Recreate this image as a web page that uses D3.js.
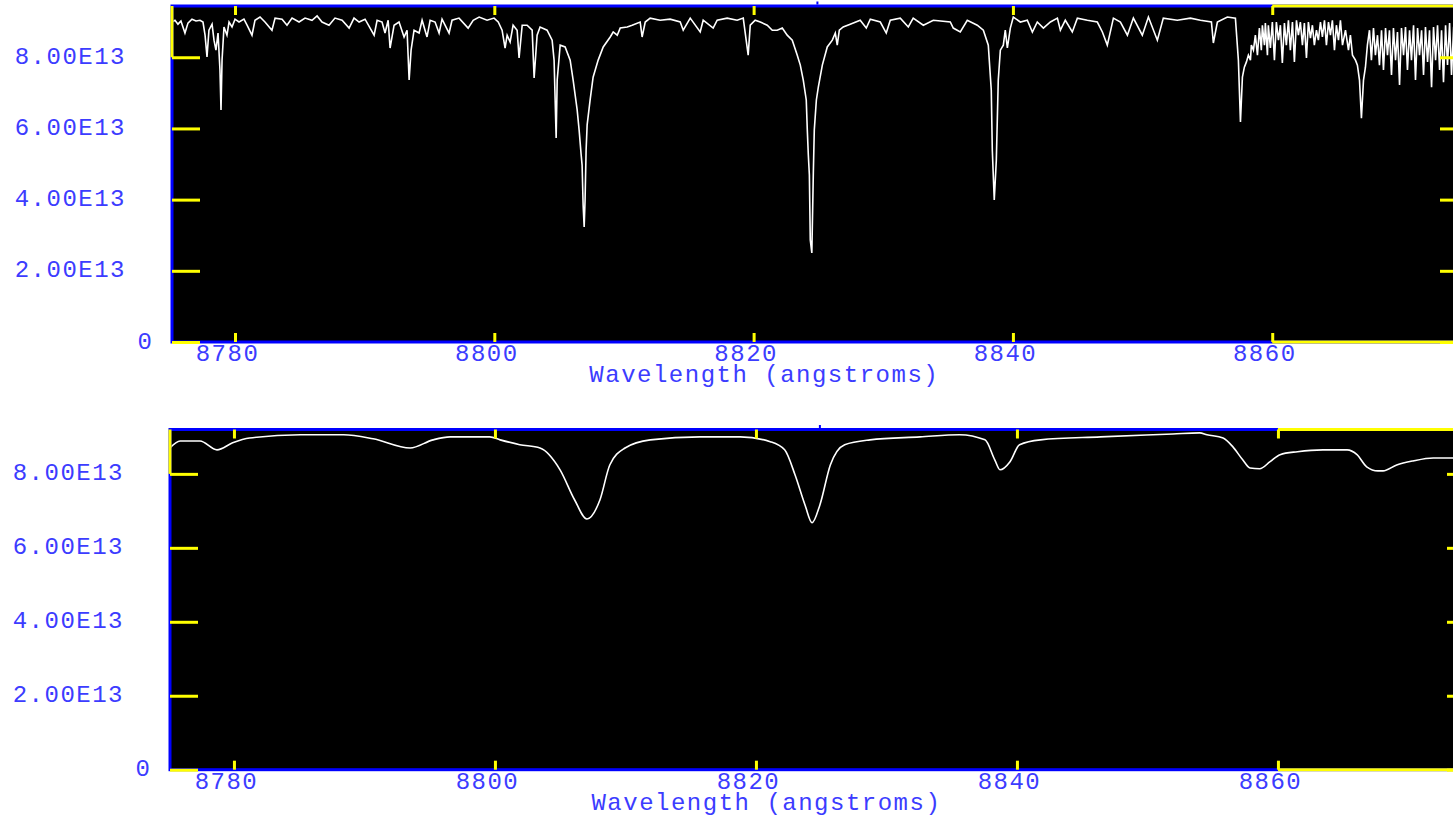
<!DOCTYPE html>
<html>
<head>
<meta charset="utf-8">
<script src="https://cdn.jsdelivr.net/npm/d3@7"></script>
<style>
  html, body { margin: 0; padding: 0; background: #ffffff; }
  svg { display: block; }
  .lbl { font-family: "Liberation Mono", "DejaVu Sans Mono", monospace; font-size: 24px; letter-spacing: 1.5px; fill: #3c3cff; }
</style>
</head>
<body>
<svg id="chart" width="1453" height="817"></svg>
<script>
// Flux values are stored in units of 1e13.
const fluxUnit = "E13";
const yTickValues = [0, 2, 4, 6, 8];
const xTickValues = [8780, 8800, 8820, 8840, 8860];
const xTitle = "Wavelength (angstroms)";

// Full-resolution spectrum: [wavelength (A), flux / 1e13]
const observedSpectrum = [
  [8775.14, 8.99], [8775.37, 9.04], [8775.60, 8.93], [8775.83, 9.02], [8776.14, 8.68],
  [8776.37, 8.96], [8776.68, 9.07], [8776.99, 9.02], [8777.30, 9.04], [8777.53, 8.99],
  [8777.69, 8.62], [8777.84, 8.01], [8777.99, 8.76], [8778.23, 8.93], [8778.38, 8.48],
  [8778.53, 8.20], [8778.69, 8.68], [8778.84, 7.64], [8778.92, 6.52], [8779.00, 7.92],
  [8779.15, 8.85], [8779.38, 8.62], [8779.54, 8.99], [8779.77, 8.85], [8780.00, 9.07],
  [8780.31, 8.99], [8780.69, 9.07], [8780.93, 8.90], [8781.31, 8.62], [8781.54, 9.04],
  [8781.93, 9.13], [8782.31, 8.99], [8782.85, 8.76], [8783.09, 9.10], [8783.63, 9.07],
  [8784.01, 8.90], [8784.40, 9.10], [8784.94, 8.99], [8785.40, 9.10], [8785.94, 9.04],
  [8786.33, 9.16], [8786.71, 8.99], [8787.25, 8.90], [8787.71, 9.10], [8788.26, 9.04],
  [8788.80, 8.82], [8789.18, 9.10], [8789.57, 8.99], [8790.03, 9.07], [8790.73, 8.62],
  [8790.96, 9.04], [8791.34, 8.99], [8791.57, 8.68], [8791.81, 9.04], [8791.96, 8.26],
  [8792.27, 8.90], [8792.65, 8.99], [8793.04, 8.57], [8793.27, 8.76], [8793.43, 7.36],
  [8793.58, 8.20], [8793.81, 8.76], [8794.20, 8.68], [8794.43, 9.04], [8794.81, 8.57],
  [8795.05, 9.04], [8795.43, 8.99], [8795.74, 8.68], [8795.97, 9.07], [8796.51, 8.68],
  [8796.74, 9.04], [8797.28, 9.10], [8797.98, 8.82], [8798.37, 9.04], [8798.83, 9.13],
  [8799.44, 9.04], [8799.98, 9.10], [8800.30, 8.99], [8800.60, 8.76], [8800.83, 8.26],
  [8800.99, 8.62], [8801.22, 8.43], [8801.45, 8.90], [8801.76, 8.76], [8801.91, 7.98],
  [8802.15, 8.90], [8802.53, 8.90], [8802.92, 8.76], [8803.07, 7.42], [8803.30, 8.62],
  [8803.53, 8.85], [8804.07, 8.76], [8804.46, 8.48], [8804.61, 7.92], [8804.77, 5.73],
  [8804.85, 7.36], [8805.08, 8.34], [8805.46, 8.29], [8805.85, 7.92], [8806.08, 7.36],
  [8806.39, 6.52], [8806.54, 5.96], [8806.70, 5.25], [8806.77, 4.97], [8806.85, 3.85],
  [8806.93, 3.23], [8807.00, 3.99], [8807.08, 5.39], [8807.16, 6.10], [8807.39, 6.80],
  [8807.62, 7.44], [8808.01, 7.92], [8808.40, 8.29], [8808.94, 8.57], [8809.17, 8.71],
  [8809.48, 8.62], [8809.71, 8.82], [8810.25, 8.85], [8810.63, 8.90], [8811.25, 8.99],
  [8811.40, 8.57], [8811.64, 8.99], [8812.02, 9.10], [8812.79, 9.04], [8813.56, 9.07],
  [8814.34, 8.99], [8814.57, 8.76], [8815.11, 9.10], [8815.88, 8.71], [8816.11, 9.04],
  [8816.88, 8.82], [8817.19, 9.04], [8817.96, 9.10], [8818.73, 9.04], [8819.20, 9.10],
  [8819.58, 8.06], [8819.74, 8.90], [8820.12, 9.04], [8820.51, 8.99], [8821.05, 8.90],
  [8821.44, 8.76], [8821.82, 8.76], [8822.21, 8.82], [8822.59, 8.62], [8822.98, 8.48],
  [8823.36, 8.06], [8823.60, 7.78], [8823.83, 7.36], [8824.06, 6.80], [8824.14, 5.96],
  [8824.22, 5.25], [8824.30, 4.69], [8824.37, 2.87], [8824.49, 2.50], [8824.61, 4.83],
  [8824.68, 5.96], [8824.84, 6.80], [8824.99, 7.16], [8825.30, 7.78], [8825.68, 8.29],
  [8826.07, 8.48], [8826.30, 8.68], [8826.45, 8.34], [8826.61, 8.76], [8826.91, 8.85],
  [8827.45, 8.93], [8828.22, 9.04], [8828.69, 8.82], [8829.00, 9.07], [8829.77, 8.99],
  [8830.23, 8.68], [8830.54, 9.04], [8831.31, 9.10], [8831.93, 8.85], [8832.31, 9.10],
  [8833.09, 8.90], [8833.86, 9.04], [8835.17, 8.99], [8835.40, 8.82], [8835.94, 8.71],
  [8836.48, 9.04], [8837.25, 8.90], [8837.72, 8.76], [8838.10, 8.34], [8838.33, 7.08],
  [8838.41, 5.39], [8838.56, 3.99], [8838.72, 5.11], [8838.87, 7.36], [8839.03, 8.20],
  [8839.26, 8.34], [8839.41, 8.76], [8839.57, 8.26], [8839.80, 8.82], [8840.03, 9.13],
  [8840.57, 8.99], [8841.11, 9.04], [8841.50, 8.71], [8841.88, 8.99], [8842.35, 8.82],
  [8842.89, 8.99], [8843.43, 9.10], [8843.66, 8.76], [8844.04, 9.04], [8844.58, 8.71],
  [8844.97, 9.10], [8845.74, 9.04], [8846.51, 8.99], [8846.90, 8.71], [8847.28, 8.34],
  [8847.75, 9.10], [8848.29, 8.99], [8848.83, 8.62], [8849.29, 9.10], [8849.98, 8.62],
  [8850.45, 9.13], [8851.14, 8.48], [8851.60, 9.10], [8852.68, 9.04], [8853.69, 9.10],
  [8854.46, 9.04], [8855.31, 8.99], [8855.46, 8.40], [8855.77, 8.99], [8856.54, 9.13],
  [8857.16, 9.10], [8857.39, 7.92], [8857.55, 6.18], [8857.70, 7.44], [8857.85, 7.72],
  [8858.01, 7.87], [8858.16, 8.06], [8858.32, 7.92], [8858.39, 8.34], [8858.55, 8.20],
  [8858.70, 8.62], [8858.86, 8.06], [8859.01, 8.82], [8859.16, 8.20], [8859.24, 8.90],
  [8859.40, 8.34], [8859.47, 8.96], [8859.63, 8.06], [8859.70, 8.90], [8859.86, 8.26],
  [8860.01, 8.99], [8860.17, 7.92], [8860.32, 8.99], [8860.48, 8.48], [8860.63, 8.90],
  [8860.78, 7.84], [8860.94, 8.96], [8861.09, 8.34], [8861.25, 9.04], [8861.40, 8.20],
  [8861.56, 8.99], [8861.71, 7.87], [8861.87, 9.04], [8862.02, 8.62], [8862.17, 8.99],
  [8862.33, 8.34], [8862.48, 8.96], [8862.64, 7.98], [8862.79, 8.99], [8862.95, 8.54],
  [8863.10, 8.90], [8863.25, 8.34], [8863.41, 8.76], [8863.56, 8.48], [8863.72, 8.99],
  [8863.87, 8.57], [8864.03, 9.04], [8864.18, 8.34], [8864.34, 8.99], [8864.49, 8.62],
  [8864.64, 9.04], [8864.80, 8.20], [8864.95, 8.90], [8865.11, 8.48], [8865.26, 9.04],
  [8865.42, 8.34], [8865.65, 8.76], [8865.88, 8.20], [8866.03, 8.62], [8866.19, 8.06],
  [8866.42, 7.92], [8866.57, 7.78], [8866.73, 7.36], [8866.88, 6.29], [8867.04, 7.36],
  [8867.19, 7.72], [8867.34, 8.34], [8867.50, 8.76], [8867.65, 7.92], [8867.81, 8.82],
  [8867.96, 8.06], [8868.12, 8.62], [8868.27, 7.78], [8868.43, 8.76], [8868.58, 7.64],
  [8868.74, 8.82], [8868.89, 8.06], [8869.04, 8.76], [8869.20, 7.50], [8869.35, 8.82],
  [8869.51, 7.92], [8869.66, 8.71], [8869.82, 7.22], [8869.97, 8.82], [8870.13, 8.06],
  [8870.28, 8.85], [8870.43, 7.64], [8870.59, 8.76], [8870.74, 7.92], [8870.90, 8.90],
  [8871.05, 7.36], [8871.21, 8.82], [8871.36, 8.06], [8871.52, 8.76], [8871.67, 7.50],
  [8871.82, 8.85], [8871.98, 7.87], [8872.13, 8.76], [8872.29, 7.16], [8872.44, 8.85],
  [8872.60, 7.92], [8872.75, 8.90], [8872.91, 7.64], [8873.06, 8.76], [8873.21, 7.30],
  [8873.37, 8.90], [8873.52, 7.78], [8873.68, 8.96], [8873.83, 7.50], [8873.99, 8.82],
  [8874.30, 8.76], [8874.61, 7.64], [8874.91, 8.82]
];

// Instrumentally smoothed spectrum: [wavelength (A), flux / 1e13]
const smoothedSpectrum = [
  [8775.10, 8.70], [8775.87, 8.89], [8777.40, 8.89], [8778.70, 8.65], [8779.90, 8.84],
  [8781.20, 8.97], [8785.10, 9.06], [8788.40, 9.06], [8790.66, 8.95], [8793.50, 8.70],
  [8795.25, 8.92], [8796.56, 9.00], [8799.60, 9.00], [8800.40, 8.92], [8801.90, 8.79],
  [8803.45, 8.70], [8804.99, 8.11], [8806.10, 7.30], [8807.05, 6.78], [8808.05, 7.30],
  [8808.80, 8.24], [8809.97, 8.70], [8811.90, 8.92], [8815.70, 9.00], [8818.80, 9.00],
  [8821.10, 8.87], [8822.20, 8.65], [8823.00, 7.97], [8823.76, 7.16], [8824.30, 6.68],
  [8824.90, 7.16], [8825.70, 8.24], [8826.80, 8.79], [8828.74, 8.92], [8832.57, 9.00],
  [8835.60, 9.06], [8837.55, 8.92], [8838.30, 8.38], [8838.70, 8.11], [8839.47, 8.33],
  [8840.20, 8.79], [8841.80, 8.92], [8846.40, 9.00], [8851.96, 9.08], [8854.00, 9.11],
  [8854.56, 9.06], [8855.80, 8.97], [8856.55, 8.73], [8857.30, 8.38], [8857.86, 8.16],
  [8858.60, 8.14], [8859.40, 8.33], [8860.16, 8.52], [8861.50, 8.60], [8863.45, 8.65],
  [8865.30, 8.65], [8866.06, 8.52], [8866.80, 8.19], [8867.66, 8.08], [8868.05, 8.08],
  [8869.10, 8.24], [8870.35, 8.35], [8871.90, 8.43], [8875.20, 8.43]
];

// Panel layout (pixels) and axis ranges
const panels = [
  { data: observedSpectrum, curve: d3.curveLinear,
    left: 172, right: 1468, top: 6, bottom: 342,
    xDomain: [8775.14, 8875.1], yMax: 9.44 },
  { data: smoothedSpectrum, curve: d3.curveMonotoneX,
    left: 170, right: 1475, top: 429.5, bottom: 769.7,
    xDomain: [8775.1, 8875.1], yMax: 9.20 }
];

const BLUE = "#0000ff";
const YELLOW = "#ffff00";
const TEXT = "#3c3cff";

const svg = d3.select("#chart");
const fmtY = v => v === 0 ? "0" : d3.format(".2f")(v) + fluxUnit;

panels.forEach((p, i) => {
  const x = d3.scaleLinear().domain(p.xDomain).range([p.left, p.right]);
  const y = d3.scaleLinear().domain([0, p.yMax]).range([p.bottom, p.top]);
  const g = svg.append("g");

  const clipId = "clip" + i;
  svg.append("defs").append("clipPath").attr("id", clipId)
    .append("rect")
    .attr("x", p.left).attr("y", p.top)
    .attr("width", p.right - p.left).attr("height", p.bottom - p.top);

  // plot background
  g.append("rect")
    .attr("x", p.left).attr("y", p.top)
    .attr("width", p.right - p.left).attr("height", p.bottom - p.top)
    .attr("fill", "#000");

  // spectrum trace
  const line = d3.line().x(d => x(d[0])).y(d => y(d[1])).curve(p.curve);
  g.append("path")
    .datum(p.data)
    .attr("clip-path", `url(#${clipId})`)
    .attr("d", line)
    .attr("fill", "none")
    .attr("stroke", "#ffffff")
    .attr("stroke-width", 1.6)
    .attr("stroke-linejoin", "miter");

  // blue frame
  g.append("rect")
    .attr("x", p.left).attr("y", p.top)
    .attr("width", p.right - p.left).attr("height", p.bottom - p.top)
    .attr("fill", "none").attr("stroke", BLUE).attr("stroke-width", 3);

  // small mark above the frame
  const mx = p.left + 0.498 * (p.right - p.left);
  g.append("line")
    .attr("x1", mx).attr("x2", mx)
    .attr("y1", p.top - 4.5).attr("y2", p.top - 1.5)
    .attr("stroke", BLUE).attr("stroke-width", 2);

  // yellow frame segments
  const lastX = xTickValues[xTickValues.length - 1];
  const topY = yTickValues[yTickValues.length - 1];
  const seg = (x1, y1, x2, y2) => g.append("line")
    .attr("x1", x1).attr("y1", y1).attr("x2", x2).attr("y2", y2)
    .attr("stroke", YELLOW).attr("stroke-width", 3);
  seg(p.left, p.top, p.left, y(topY));
  seg(x(lastX), p.top, p.right, p.top);
  seg(x(lastX), p.bottom, p.right, p.bottom);

  const styleAxis = sel => {
    sel.select(".domain").remove();
    sel.selectAll(".tick line").attr("stroke", YELLOW).attr("stroke-width", 3);
    sel.selectAll(".tick text").attr("class", "lbl").attr("fill", TEXT);
  };

  // left axis with labels
  const left = g.append("g").attr("transform", `translate(${p.left},0)`)
    .call(d3.axisLeft(y).tickValues(yTickValues).tickSize(-28).tickPadding(46).tickFormat(fmtY))
    .call(styleAxis);
  left.selectAll(".tick text").attr("dy", "0.25em")
    .filter(d => d === 0).attr("x", -18.5);

  // right axis ticks
  g.append("g").attr("transform", `translate(${p.right},0)`)
    .call(d3.axisRight(y).tickValues(yTickValues).tickSize(-28).tickFormat(""))
    .call(styleAxis);

  // bottom axis with labels
  const bottom = g.append("g").attr("transform", `translate(0,${p.bottom})`)
    .call(d3.axisBottom(x).tickValues(xTickValues).tickSize(-9).tickPadding(2).tickFormat(d3.format("d")))
    .call(styleAxis);
  bottom.selectAll(".tick text").attr("dx", -8);

  // top axis ticks
  g.append("g").attr("transform", `translate(0,${p.top})`)
    .call(d3.axisTop(x).tickValues(xTickValues).tickSize(-9).tickFormat(""))
    .call(styleAxis);

  // axis title
  g.append("text")
    .attr("class", "lbl")
    .attr("x", p.left + 0.457 * (p.right - p.left))
    .attr("y", p.bottom + 40)
    .attr("text-anchor", "middle")
    .text(xTitle);
});
</script>
</body>
</html>
